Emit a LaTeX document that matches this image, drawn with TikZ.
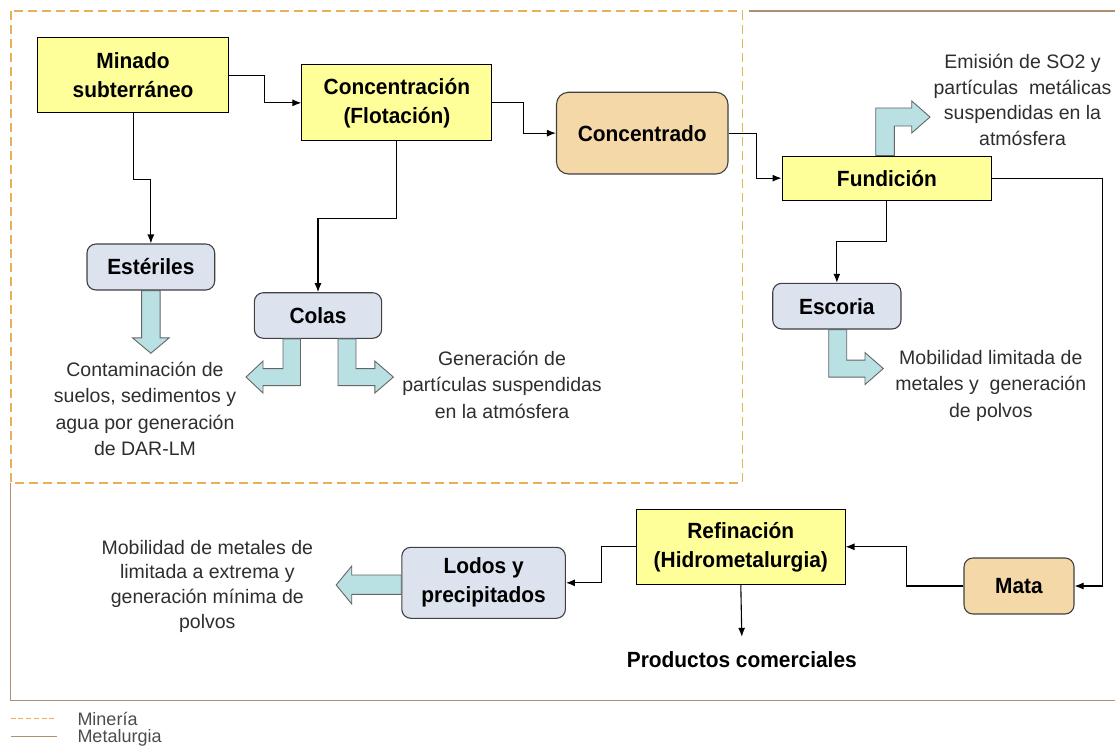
\documentclass[tikz,border=0pt]{standalone}
\usepackage{fontspec}
\setmainfont{Liberation Sans}
\newfontfamily\boxfont{Liberation Sans}[FakeStretch=0.95]
\usetikzlibrary{arrows.meta,calc}
\definecolor{yel}{HTML}{FFFF99}
\definecolor{wheatc}{HTML}{F5D8A8}
\definecolor{bluegray}{HTML}{DCE3EF}
\definecolor{fatc}{HTML}{B9E0E3}
\definecolor{mineria}{HTML}{EBB055}
\definecolor{metal}{HTML}{B09070}
\definecolor{labelgray}{HTML}{2E2E2E}
\tikzset{
 bfont/.style={font=\boxfont\bfseries\fontsize{22}{29}\selectfont},
 procbox/.style={draw=black, line width=1pt, fill=yel, align=center, inner sep=0pt, bfont},
 prodbox/.style={draw=black!75, line width=1.1pt, fill=wheatc, rounded corners=12pt, align=center, inner sep=0pt, bfont},
 wastebox/.style={draw=black!75, line width=1.1pt, fill=bluegray, rounded corners=9pt, align=center, inner sep=0pt, bfont},
 conn/.style={line width=1.1pt, -{Latex[length=9pt,width=7pt]}},
 fat/.style={draw=black!60, fill=fatc, line width=0.9pt, line join=miter},
 lbl/.style={align=center, text=labelgray, inner sep=0pt, font=\fontsize{19.5}{26.5}\selectfont},
 legtext/.style={anchor=west, text=black!70, inner sep=0pt, font=\fontsize{18}{20}\selectfont},
}
\begin{document}
\begin{tikzpicture}[x=1pt,y=-1pt]
\useasboundingbox (0,0) rectangle (1115,749);
% frames
\draw[mineria, line width=1.6pt, dash pattern=on 9pt off 5pt] (11,11) rectangle (742.3,482.7);
\draw[metal, line width=1.4pt] (749,11) -- (1115,11);
\draw[metal, line width=1.4pt] (10.7,482.7) -- (10.7,700.7) -- (1115,700.7);
% nodes
\node[procbox, minimum width=191pt, minimum height=75pt] (m) at (133.05,75.2) {Minado\\subterráneo};
\node[procbox, minimum width=190pt, minimum height=75.7pt] (c) at (396.9,102.85) {Concentración\\(Flotación)};
\node[prodbox, minimum width=171.5pt, minimum height=81.7pt] (cdo) at (642.25,133.15) {Concentrado};
\node[procbox, minimum width=209.8pt, minimum height=44.3pt] (fund) at (886.9,178.15) {Fundición};
\node[wastebox, minimum width=127.7pt, minimum height=46pt] (est) at (150.85,267) {Estériles};
\node[wastebox, minimum width=127.3pt, minimum height=45.6pt] (colas) at (318,315.5) {Colas};
\node[wastebox, minimum width=128.3pt, minimum height=45.7pt] (esc) at (836.85,306.15) {Escoria};
\node[procbox, minimum width=208.4pt, minimum height=75pt] (ref) at (740.8,546.8) {Refinación\\(Hidrometalurgia)};
\node[wastebox, minimum width=163.6pt, minimum height=71pt] (lodos) at (483.6,582.8) {Lodos y\\precipitados};
\node[prodbox, minimum width=110pt, minimum height=56pt, rounded corners=9pt] (mata) at (1019,586) {Mata};
\node[bfont, inner sep=0pt, minimum height=46pt] (prod) at (741.8,660) {Productos comerciales};
% labels
\node[lbl, font=\fontsize{19.5}{25.5}\selectfont] (emi) at (1022.5,100) {Emisión de SO2 y\\partículas~ metálicas\\suspendidas en la\\atmósfera};
\node[lbl] (cont) at (145,408.7) {Contaminación de\\suelos, sedimentos y\\agua por generación\\de DAR-LM};
\node[lbl] (gen) at (502,384.8) {Generación de\\partículas suspendidas\\en la atmósfera};
\node[lbl] (movesc) at (990.8,385.7) {Mobilidad limitada de\\metales y~ generación\\de polvos};
\node[lbl, font=\fontsize{19.5}{24.8}\selectfont] (movlod) at (207.3,586.3) {Mobilidad de metales de\\limitada a extrema y\\generación mínima de\\polvos};
% connectors
\draw[conn] (m.east) -- ++(35.4,0) |- (c.west);
\draw[conn] (c.east) -- ++(31,0) |- (cdo.west);
\draw[conn] (cdo.east) -- ++(27.6,0) |- (fund.west);
\draw[conn] (fund.east) -- ++(110.2,0) |- (mata.east);
\draw[conn] (fund.south) -- ++(0,40.4) -| (esc.north);
\draw[conn] (m.south) -- ++(0,66.3) -| (est.north);
\draw[conn] (c.south) -- ++(0,77) -| (colas.north);
\draw[conn] (ref.west) -- ++(-34.2,0) |- (lodos.east);
\draw[conn] (mata.west) -- ++(-57.2,0) |- (ref.east);
\draw[conn] (ref.south) -- (prod.north);
% fat arrows
\draw[fat] ($(est.south)+(-9.25,0)$) -- ++(0,47.3) -- ++(-9.1,0) -- ++(18.35,15.4) -- ++(18.35,-15.4) -- ++(-9.1,0) -- ++(0,-47.3) -- cycle;
\draw[fat] ($(colas.south)+(-17.5,0)$) -- ++(0,46.7) -- ++(-37.5,0) -- ++(0,7.5) -- ++(-17,-16) -- ++(17,-16) -- ++(0,7.5) -- ++(20,0) -- ++(0,-29.7) -- cycle;
\draw[fat] ($(colas.south)+(20,0)$) -- ++(0,46.7) -- ++(36.8,0) -- ++(0,7.5) -- ++(18.6,-16) -- ++(-18.6,-16) -- ++(0,7.5) -- ++(-18.8,0) -- ++(0,-29.7) -- cycle;
\draw[fat] ($(esc.south)+(-8.15,0)$) -- ++(0,47.5) -- ++(36.3,0) -- ++(0,7.5) -- ++(18.3,-16) -- ++(-18.3,-16) -- ++(0,7.5) -- ++(-18.3,0) -- ++(0,-30.5) -- cycle;
\draw[fat] ($(fund.north)+(-11.2,0)$) -- ++(0,-47.5) -- ++(36,0) -- ++(0,-7) -- ++(18.3,16) -- ++(-18.3,16) -- ++(0,-7) -- ++(-17.4,0) -- ++(0,29.5) -- cycle;
\draw[fat] ($(lodos.west)+(0,-7.8)$) -- ++(-49.5,0) -- ++(0,-9) -- ++(-15.6,19) -- ++(15.6,19) -- ++(0,-9.7) -- ++(49.5,0) -- cycle;
% legend
\draw[mineria, line width=1.3pt, dash pattern=on 5pt off 2.7pt] (10.7,718.3) -- (56.7,718.3);
\draw[metal, line width=1.3pt] (10.7,736.7) -- (56.7,736.7);
\node[legtext] (lmin) at (77.3,719.3) {Minería};
\node[legtext] (lmet) at (77.3,738.3) {Metalurgia};
\end{tikzpicture}
\end{document}
